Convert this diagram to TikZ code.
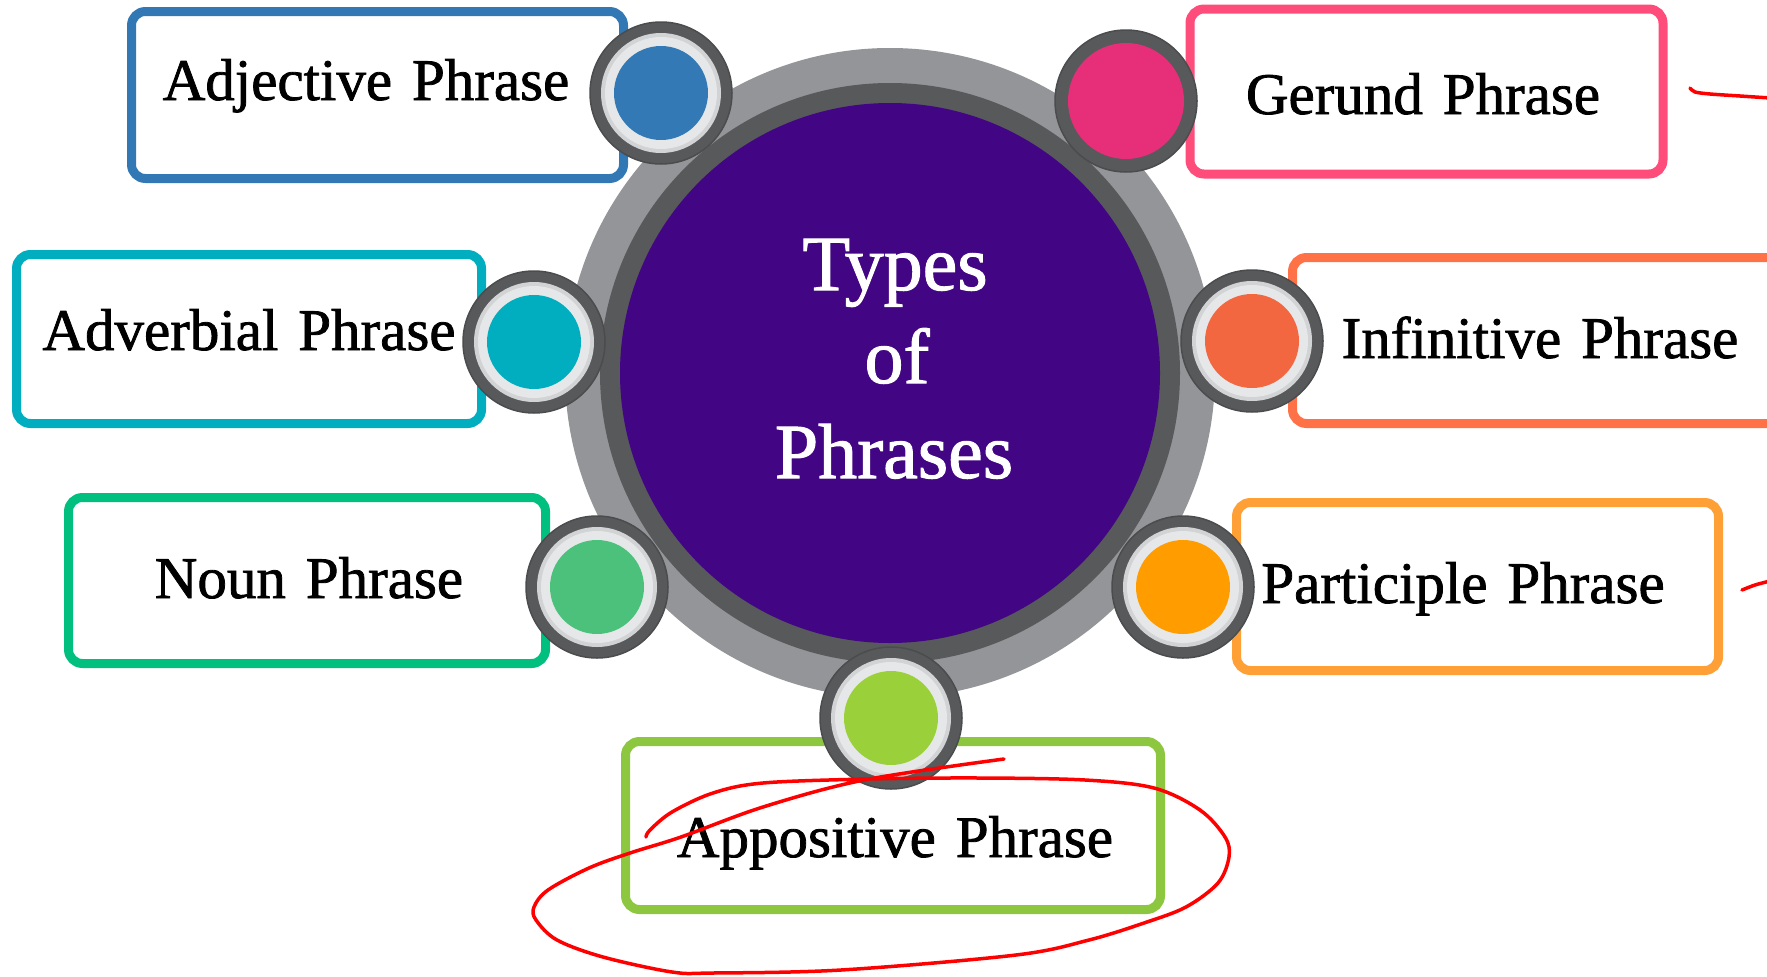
\documentclass[tikz,border=0pt]{standalone}
\usepackage{fontspec}
\setmainfont[FakeBold=1.3]{Liberation Serif}
\newfontfamily\boxfont[FakeBold=1.3,WordSpace=1.35]{Liberation Serif}
\definecolor{ringout}{HTML}{939598}
\definecolor{ringdark}{HTML}{58595B}
\definecolor{purp}{HTML}{420583}
\definecolor{lgA}{HTML}{D1D3D4}
\definecolor{lgB}{HTML}{E6E7E8}
\definecolor{adjC}{HTML}{3178B5}
\definecolor{adjD}{HTML}{3279B6}
\definecolor{gerC}{HTML}{FF4D7B}
\definecolor{gerD}{HTML}{E62F78}
\definecolor{advC}{HTML}{00AEC0}
\definecolor{advD}{HTML}{00AEC0}
\definecolor{infC}{HTML}{FF7248}
\definecolor{infD}{HTML}{F26640}
\definecolor{nouC}{HTML}{00BF7F}
\definecolor{nouD}{HTML}{4CC17B}
\definecolor{parC}{HTML}{FFA036}
\definecolor{parD}{HTML}{FF9C00}
\definecolor{appC}{HTML}{8DC73F}
\definecolor{appD}{HTML}{9AD13A}
\definecolor{scrib}{HTML}{FF0000}
\tikzset{
  phbox/.style={draw=#1, line width=9pt, rounded corners=14pt, fill=white, inner sep=0pt},
  phtext/.style={anchor=base, inner sep=0pt, font=\boxfont\fontsize{59}{66}\selectfont},
  ctext/.style={anchor=base, inner sep=0pt, text=white, font=\fontsize{78}{90}\selectfont},
  dotouter/.style={circle, fill=ringdark, draw=ringdark!85!black, line width=1.5pt, minimum size=142pt, inner sep=0pt},
  dotringA/.style={circle, fill=lgA, minimum size=120pt, inner sep=0pt},
  dotringB/.style={circle, fill=lgB, minimum size=112pt, inner sep=0pt},
  dotcore/.style={circle, fill=#1, minimum size=94pt, inner sep=0pt},
  scribble/.style={draw=scrib, line width=3.5pt, line cap=round, line join=round}
}
\begin{document}
\begin{tikzpicture}[x=1pt,y=-1pt]
\useasboundingbox (0,0) rectangle (1767,977);
\fill[white] (0,0) rectangle (1767,977);
\begin{scope}
\clip (0,0) rectangle (1767,977);
% central circle
\node[circle, fill=ringout, minimum size=650pt, inner sep=0pt] (cout) at (890,373) {};
\node[circle, fill=ringdark, minimum size=580pt, inner sep=0pt] (cmid) at (890,373) {};
\node[circle, fill=purp, minimum size=540pt, inner sep=0pt] (cin) at (890,373) {};
\node[ctext] (t1) at (895,290) {Types};
\node[ctext] (t2) at (897,383) {of};
\node[ctext] (t3) at (894,478) {Phrases};
% boxes
\node[phbox=adjC, minimum width=492pt, minimum height=167pt] (adjbox) at (377.5,95) {};
\node[phbox=gerC, minimum width=473pt, minimum height=165pt] (gerbox) at (1426.5,91.5) {};
\node[phbox=advC, minimum width=465pt, minimum height=169pt] (advbox) at (249,339) {};
\node[phbox=infC, minimum width=507pt, minimum height=166pt] (infbox) at (1546,340.5) {};
\node[phbox=nouC, minimum width=477pt, minimum height=166pt] (noubox) at (307,580.5) {};
\node[phbox=parC, minimum width=482pt, minimum height=168pt] (parbox) at (1477.5,586.5) {};
\node[phbox=appC, minimum width=535pt, minimum height=168pt] (appbox) at (893,825.5) {};
% texts
\node[phtext] (adjtxt) at (366,100) {Adjective Phrase};
\node[phtext] (gertxt) at (1423,114) {Gerund Phrase};
\node[phtext] (advtxt) at (249,350) {Adverbial Phrase};
\node[phtext] (inftxt) at (1540,358) {Infinitive Phrase};
\node[phtext] (noutxt) at (309,598) {Noun Phrase};
\node[phtext] (partxt) at (1463,603) {Participle Phrase};
\node[phtext] (apptxt) at (895,857) {Appositive Phrase};
% small circles
\node[dotouter] (adjo) at (661,93) {};
\node[dotringA] (adja) at (661,93) {};
\node[dotringB] (adjb) at (661,93) {};
\node[dotcore=adjD] (adjd) at (661,93) {};
\node[dotouter] (gero) at (1126,101) {};
\node[dotcore=gerD, minimum size=116pt] (gerd) at (1126,101) {};
\node[dotouter] (advo) at (534,342) {};
\node[dotringA] (adva) at (534,342) {};
\node[dotringB] (advb) at (534,342) {};
\node[dotcore=advD] (advd) at (534,342) {};
\node[dotouter] (info) at (1252,341) {};
\node[dotringA] (infa) at (1252,341) {};
\node[dotringB] (infb) at (1252,341) {};
\node[dotcore=infD] (infd) at (1252,341) {};
\node[dotouter] (nouo) at (597,587) {};
\node[dotringA] (noua) at (597,587) {};
\node[dotringB] (noub) at (597,587) {};
\node[dotcore=nouD] (noud) at (597,587) {};
\node[dotouter] (paro) at (1183,587) {};
\node[dotringA] (para) at (1183,587) {};
\node[dotringB] (parb) at (1183,587) {};
\node[dotcore=parD] (pard) at (1183,587) {};
\node[dotouter] (appo) at (891,718) {};
\node[dotringA] (appa) at (891,718) {};
\node[dotringB] (appb) at (891,718) {};
\node[dotcore=appD] (appd) at (891,718) {};
% red scribbles
\draw[scribble] plot[smooth, tension=0.55] coordinates {
 (646,837) (650,830) (672,812) (713,793) (763,783) (869,779) (979,778) (1085,780)
 (1154,788) (1200,810) (1225,837) (1229,857) (1218,883) (1186,907) (1144,923)
 (1089,940) (1016,955) (841,970) (713,973) (672,972) (603,957) (557,940)
 (536,920) (534,907) (548,890) (589,868) (630,853) (681,837) (763,807) (864,780) (1004,759)};
\draw[scribble] plot[smooth, tension=0.5] coordinates {(1690,88) (1695,92) (1710,94) (1740,96) (1770,98)};
\draw[scribble] plot[smooth, tension=0.5] coordinates {(1742,590) (1755,585) (1770,581)};
\end{scope}
\end{tikzpicture}
\end{document}
